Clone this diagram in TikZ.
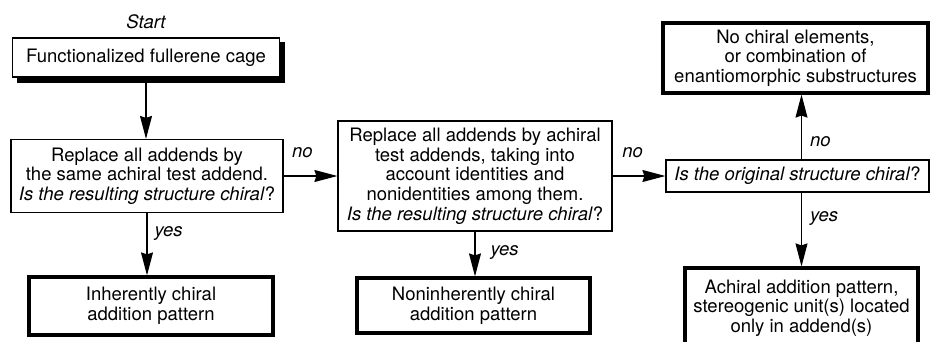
\documentclass[tikz,border=0pt]{standalone}
\usepackage{fontspec}
\setmainfont{TeX Gyre Heros}
\usetikzlibrary{arrows.meta}

\begin{document}
\begin{tikzpicture}[x=1pt,y=-1pt,
    every node/.style={font=\fontsize{18.5}{19.7}\selectfont, align=center},
    qbox/.style={draw, line width=1.2pt, inner sep=3pt},
    resbox/.style={draw, line width=3.2pt, inner sep=3pt},
    startbox/.style={qbox, minimum width=267pt, minimum height=39pt},
    arr/.style={line width=1.2pt, -{Stealth[length=23pt,width=12pt,inset=2pt]}},
    lbl/.style={font=\fontsize{18.5}{19.7}\selectfont\itshape, inner sep=2pt}]
  % page frame
  \useasboundingbox (0,0) rectangle (930,341);
  \clip (0,0) rectangle (930,341);

  % left column
  \node[lbl] (start) at (146,22) {Start};
  \node[startbox, fill=black] (cageshadow) at (151,62.5) {};
  \node[startbox, fill=white] (cage) at (146,57.5) {Functionalized fullerene cage};
  \node[qbox, minimum width=272pt, minimum height=73pt] (same) at (147,176)
    {Replace all addends by\\the same achiral test addend.\\\textit{Is the resulting structure chiral}?};
  \node[resbox, minimum width=244pt, minimum height=58pt] (inherent) at (151,306)
    {Inherently chiral\\addition pattern};

  % middle column
  \node[qbox, minimum width=274pt, minimum height=110pt] (ident) at (475,176)
    {Replace all addends by achiral\\test addends, taking into\\account identities and\\nonidentities among them.\\\textit{Is the resulting structure chiral}?};
  \node[resbox, minimum width=233pt, minimum height=55pt] (noninherent) at (473.5,305.5)
    {Noninherently chiral\\addition pattern};

  % right column
  \node[qbox, minimum width=263pt, minimum height=32pt] (orig) at (797.5,176)
    {\textit{Is the original structure chiral}?};
  \node[resbox, minimum width=265pt, minimum height=70pt] (achiral) at (795.5,58)
    {No chiral elements,\\or combination of\\enantiomorphic substructures};
  \node[resbox, minimum width=233pt, minimum height=80pt] (addend) at (801.5,308)
    {Achiral addition pattern,\\stereogenic unit(s) located\\only in addend(s)};

  % connectors
  \draw[arr] (cageshadow.south -| cage) -- (cage.south |- same.north);
  \draw[arr] (same.south) -- (same.south |- inherent.north) node[lbl, pos=0.33, right=5pt] {yes};
  \draw[arr] (same.east) -- (ident.west) node[lbl, pos=0.35, above=16pt] {no};
  \draw[arr] (ident.south) -- (ident.south |- noninherent.north) node[lbl, pos=0.46, right=13pt] {yes};
  \draw[arr] (ident.east) -- (orig.west) node[lbl, pos=0.38, above=16pt] {no};
  \draw[arr] (orig.north -| addend) -- (achiral.south -| addend) node[lbl, pos=0.28, right=6pt] {no};
  \draw[arr] (orig.south -| addend) -- (addend.north) node[lbl, pos=0.35, right=6pt] {yes};
\end{tikzpicture}
\end{document}
